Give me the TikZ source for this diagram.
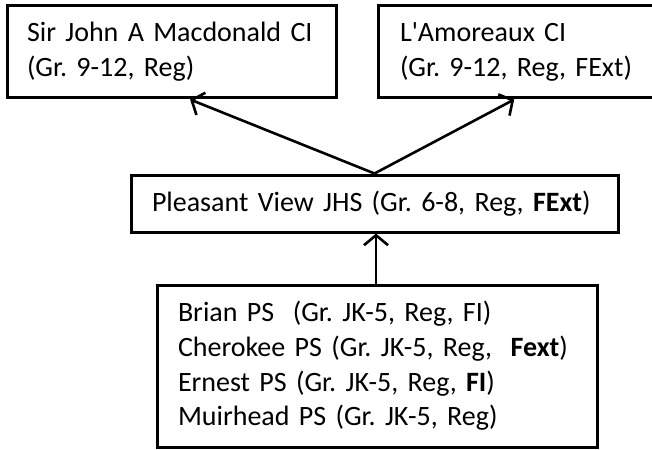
\documentclass[tikz,border=0pt]{standalone}
\usepackage{fontspec}
\setmainfont{Carlito}
\usetikzlibrary{arrows.meta,calc}
\frenchspacing
\begin{document}
\frenchspacing
\begin{tikzpicture}[x=1pt,y=-1pt,
  box/.style={draw=black,line width=3pt,align=left,font=\fontsize{28}{35}\selectfont\frenchspacing,inner ysep=0pt},
  conn/.style={line width=2.6pt,-{Straight Barb[length=10pt,width=24pt,line width=2.6pt]}}]
\useasboundingbox (0,0) rectangle (652,449);
\node[box,text width=289pt,inner xsep=20pt,minimum height=92pt] (b1) at (171.5,52) {Sir John A Macdonald CI\\(Gr. 9-12, Reg)};
\node[box,text width=246pt,inner xsep=22pt,minimum height=92pt] (b2) at (523,52) {L\textquotesingle Amoreaux CI\\(Gr. 9-12, Reg, FExt)};
\node[box,text width=445pt,inner xsep=21pt,minimum height=57pt] (mid) at (374.5,203.5) {Pleasant View JHS (Gr. 6-8, Reg, \textbf{FExt})};
\node[box,text width=398pt,inner xsep=21pt,minimum height=162pt,font=\fontsize{28}{34.7}\selectfont\frenchspacing] (ps) at (377,366) {Brian PS~ (Gr. JK-5, Reg, FI)\\Cherokee PS (Gr. JK-5, Reg,~ \textbf{Fext})\\Ernest PS (Gr. JK-5, Reg, \textbf{FI})\\Muirhead PS (Gr. JK-5, Reg)};
\coordinate (t1) at ($(b1.south west)!0.556!(b1.south east)$);
\coordinate (t2) at ($(b2.south west)!0.47!(b2.south east)$);
\draw[conn] (mid.north) -- (t1);
\draw[conn] (mid.north) -- (t2);
\draw[conn] (ps.north -| 376,0) -- (mid.south -| 376,0);
\end{tikzpicture}
\end{document}
